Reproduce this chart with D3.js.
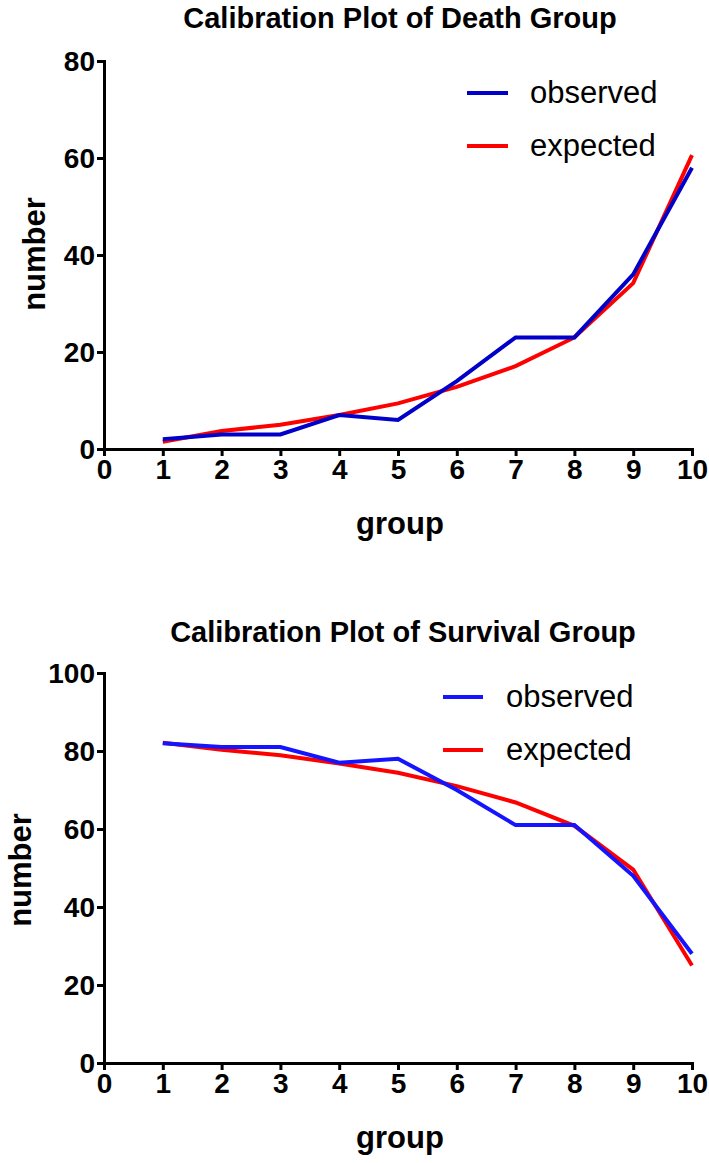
<!DOCTYPE html>
<html>
<head>
<meta charset="utf-8">
<script src="https://cdn.jsdelivr.net/npm/d3@7"></script>
<style>
  html, body { margin: 0; padding: 0; background: #fff; }
  svg { display: block; }
  text { font-family: "Liberation Sans", Arial, Helvetica, sans-serif; fill: #000; }
</style>
</head>
<body>
<svg id="chart" width="709" height="1163"></svg>
<script>
// ---- data ----
const groups = [1, 2, 3, 4, 5, 6, 7, 8, 9, 10];
const xTicks = [0, 1, 2, 3, 4, 5, 6, 7, 8, 9, 10];

const deathObserved = [2, 3, 3, 7, 6, 14, 23, 23, 36, 58];
const deathExpected = [1.5, 3.7, 5.0, 7.0, 9.4, 12.8, 17.1, 23.0, 34.2, 60.6];
const deathYTicks = [0, 20, 40, 60, 80];

const survObserved = [82, 81, 81, 77, 78, 70, 61, 61, 48, 28];
const survExpected = [82.1, 80.3, 78.9, 76.8, 74.4, 71.0, 66.8, 60.8, 49.6, 25.0];
const survYTicks = [0, 20, 40, 60, 80, 100];

const seriesNames = ["observed", "expected"];

const svg = d3.select("#chart");

function drawPanel(cfg) {
  const g = svg.append("g");
  const x = d3.scaleLinear().domain([0, 10]).range([104, 692]);
  const y = d3.scaleLinear().domain([0, cfg.yMax]).range([cfg.y0, cfg.yTop]);

  // title
  g.append("text")
    .attr("x", cfg.titleX).attr("y", cfg.titleY)
    .attr("text-anchor", "middle")
    .style("font-size", "29px").style("font-weight", "bold")
    .text(cfg.title);

  // axes
  const xAxis = d3.axisBottom(x).tickValues(xTicks).tickFormat(d3.format("d")).tickSizeOuter(0).tickSizeInner(7).tickPadding(10);
  const yAxis = d3.axisLeft(y).tickValues(cfg.yTicks).tickFormat(d3.format("d")).tickSizeOuter(0).tickSizeInner(7).tickPadding(3);

  const gx = g.append("g").attr("transform", `translate(0,${cfg.y0})`).call(xAxis);
  const gy = g.append("g").attr("transform", `translate(104,0)`).call(yAxis);
  [gx, gy].forEach(a => {
    a.selectAll("path.domain").attr("stroke", "#000").attr("stroke-width", 3).attr("stroke-linecap", "square");
    a.selectAll(".tick line").attr("stroke", "#000").attr("stroke-width", 3);
    a.selectAll(".tick text")
      .style("font-family", "'Liberation Sans', Arial, sans-serif")
      .style("font-size", "28px").style("font-weight", "bold").attr("fill", "#000");
  });
  gx.selectAll(".tick text").attr("dy", "0.71em").attr("y", 10);
  gy.selectAll(".tick text").attr("x", -9).attr("dy", "0.34em");

  // axis labels
  g.append("text")
    .attr("transform", `translate(${cfg.yLabelX},${cfg.yLabelY}) rotate(-90)`)
    .attr("text-anchor", "middle")
    .style("font-size", "31px").style("font-weight", "bold")
    .text("number");
  g.append("text")
    .attr("x", 400).attr("y", cfg.xLabelY)
    .attr("text-anchor", "middle")
    .style("font-size", "31px").style("font-weight", "bold")
    .text("group");

  // lines
  const line = d3.line().x((d, i) => x(groups[i])).y(d => y(d));
  const data = [cfg.observed, cfg.expected];
  const colors = [cfg.obsColor, "#ff0000"];
  [1, 0].forEach(k => {
    g.append("path")
      .datum(data[k])
      .attr("d", line)
      .attr("fill", "none")
      .attr("stroke", colors[k])
      .attr("stroke-width", 4)
      .attr("stroke-linejoin", "miter");
  });

  // legend
  seriesNames.forEach((name, k) => {
    const ly = cfg.legendY + k * 53;
    g.append("line")
      .attr("x1", cfg.legendX1).attr("x2", cfg.legendX2)
      .attr("y1", ly).attr("y2", ly)
      .attr("stroke", colors[k]).attr("stroke-width", 4);
    g.append("text")
      .attr("x", cfg.legendTextX).attr("y", ly + 10)
      .style("font-size", "31px")
      .text(name);
  });
}

drawPanel({
  title: "Calibration Plot of Death Group",
  titleX: 400, titleY: 28,
  yMax: 80, y0: 449, yTop: 61, yTicks: deathYTicks,
  observed: deathObserved, expected: deathExpected,
  obsColor: "#0000c8",
  yLabelX: 45, yLabelY: 254, xLabelY: 534,
  legendY: 93, legendX1: 467, legendX2: 508, legendTextX: 530
});

drawPanel({
  title: "Calibration Plot of Survival Group",
  titleX: 403, titleY: 642,
  yMax: 100, y0: 1063, yTop: 673, yTicks: survYTicks,
  observed: survObserved, expected: survExpected,
  obsColor: "#1414ff",
  yLabelX: 31, yLabelY: 870, xLabelY: 1148,
  legendY: 697, legendX1: 443, legendX2: 483, legendTextX: 506
});
</script>
</body>
</html>
